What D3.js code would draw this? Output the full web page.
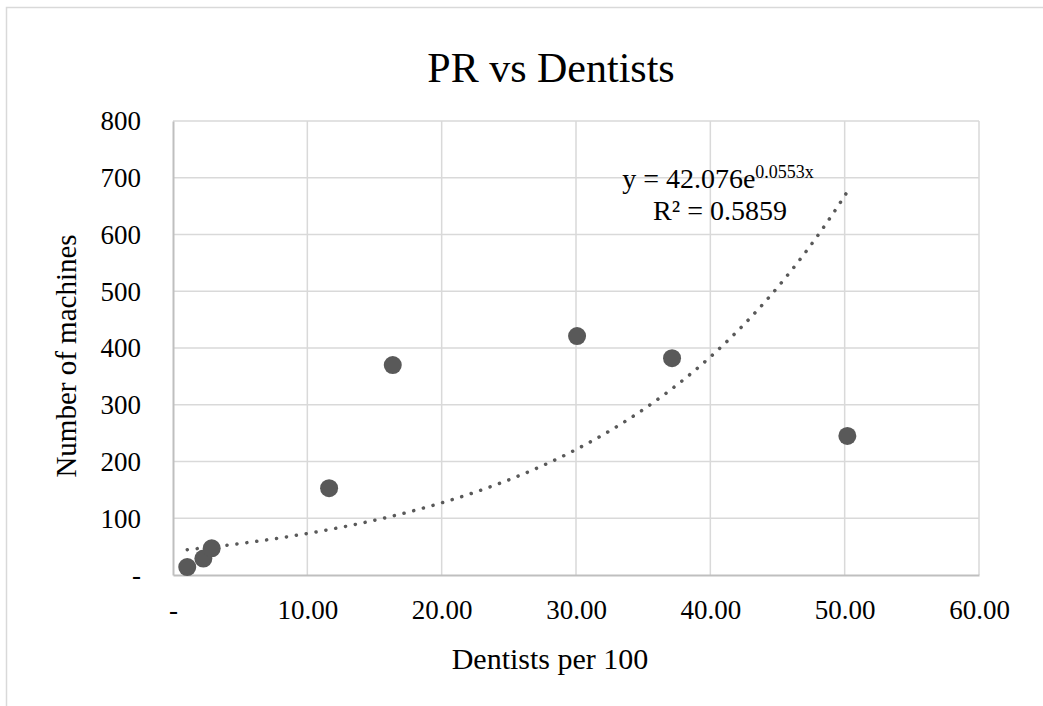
<!DOCTYPE html>
<html>
<head>
<meta charset="utf-8">
<script src="https://cdn.jsdelivr.net/npm/d3@7"></script>
<style>
  html, body { margin: 0; padding: 0; background: #fff; }
  svg { display: block; }
  text { font-family: "Liberation Serif", "Times New Roman", serif; fill: #000; }
</style>
</head>
<body>
<svg id="chart" width="1043" height="706"></svg>
<script>
// Dentists per 100 vs number of machines
const dentists = [1.06, 2.26, 2.88, 11.62, 16.36, 30.08, 37.15, 50.2];
const machines = [14, 29, 47, 153, 370, 421, 382, 245];

// Exponential trendline y = a * e^(b x)
const trendCoef = [42.076, 0.0553];
const trendRange = [1.06, 50.2];

const xTicks = [0, 10, 20, 30, 40, 50, 60];
const yTicks = [0, 100, 200, 300, 400, 500, 600, 700, 800];

const chartTitle = "PR vs Dentists";
const xTitle = "Dentists per 100";
const yTitle = "Number of machines";

const svg = d3.select("#chart");

// Chart area border
svg.append("rect")
  .attr("x", 6.5).attr("y", 7.5)
  .attr("width", 1060).attr("height", 720)
  .attr("fill", "#fff")
  .attr("stroke", "#d9d9d9").attr("stroke-width", 1.5);

const plot = { left: 173, right: 979, top: 121, bottom: 575 };

const x = d3.scaleLinear().domain([0, 60]).range([plot.left, plot.right]);
const y = d3.scaleLinear().domain([0, 800]).range([plot.bottom, plot.top]);

const fmtX = d => d === 0 ? "-" : d3.format(".2f")(d);
const fmtY = d => d === 0 ? "-" : String(d);

// Gridlines
const grid = svg.append("g");
grid.selectAll("line.h").data(yTicks.filter(d => d > 0)).join("line")
  .attr("x1", plot.left).attr("x2", plot.right)
  .attr("y1", d => y(d)).attr("y2", d => y(d))
  .attr("stroke", "#d9d9d9").attr("stroke-width", 1.5);
grid.selectAll("line.v").data(xTicks.filter(d => d > 0)).join("line")
  .attr("y1", plot.top).attr("y2", plot.bottom)
  .attr("x1", d => x(d)).attr("x2", d => x(d))
  .attr("stroke", "#d9d9d9").attr("stroke-width", 1.5);

// Axes (lines only, labels styled below)
const xAxis = svg.append("g")
  .attr("transform", `translate(0,${plot.bottom})`)
  .call(d3.axisBottom(x).tickValues(xTicks).tickFormat(fmtX).tickSize(0).tickPadding(25));
const yAxis = svg.append("g")
  .attr("transform", `translate(${plot.left},0)`)
  .call(d3.axisLeft(y).tickValues(yTicks).tickFormat(fmtY).tickSize(0).tickPadding(32));

[xAxis, yAxis].forEach(g => {
  g.select(".domain").attr("stroke", "#bfbfbf").attr("stroke-width", 2);
  g.selectAll("text")
    .style("font-family", '"Liberation Serif", "Times New Roman", serif')
    .style("font-size", "27px").attr("fill", "#000");
});
xAxis.selectAll("text").attr("dy", "0.71em");
yAxis.selectAll("text").attr("dy", "0.33em");

// Trendline (dotted)
const a = trendCoef[0], b = trendCoef[1];
const trendPts = d3.range(trendRange[0], trendRange[1] + 1e-9, (trendRange[1] - trendRange[0]) / 120)
  .map(v => [v, a * Math.exp(b * v)]);
svg.append("path")
  .datum(trendPts)
  .attr("fill", "none")
  .attr("stroke", "#595959")
  .attr("stroke-width", 3.5)
  .attr("stroke-linecap", "round")
  .attr("stroke-dasharray", "0.1 9.9")
  .attr("d", d3.line().x(d => x(d[0])).y(d => y(d[1])));

// Points
svg.append("g").selectAll("circle")
  .data(dentists.map((d, i) => [d, machines[i]]))
  .join("circle")
  .attr("cx", d => x(d[0])).attr("cy", d => y(d[1]))
  .attr("r", 9)
  .attr("fill", "#595959");

// Trendline label
const eq = svg.append("text")
  .attr("x", 718).attr("y", 188)
  .attr("text-anchor", "middle")
  .style("font-size", "28px");
eq.append("tspan").text(`y = ${a}e`);
eq.append("tspan").attr("dy", -10).style("font-size", "18px").text(`${b}x`);
svg.append("text")
  .attr("x", 720).attr("y", 220)
  .attr("text-anchor", "middle")
  .style("font-size", "28px")
  .text("R² = 0.5859");

// Titles
svg.append("text")
  .attr("x", 551).attr("y", 82)
  .attr("text-anchor", "middle")
  .style("font-size", "42px")
  .text(chartTitle);
svg.append("text")
  .attr("x", 550).attr("y", 669)
  .attr("text-anchor", "middle")
  .style("font-size", "30px")
  .text(xTitle);
svg.append("text")
  .attr("transform", "translate(76,356) rotate(-90)")
  .attr("text-anchor", "middle")
  .style("font-size", "29px")
  .text(yTitle);
</script>
</body>
</html>
